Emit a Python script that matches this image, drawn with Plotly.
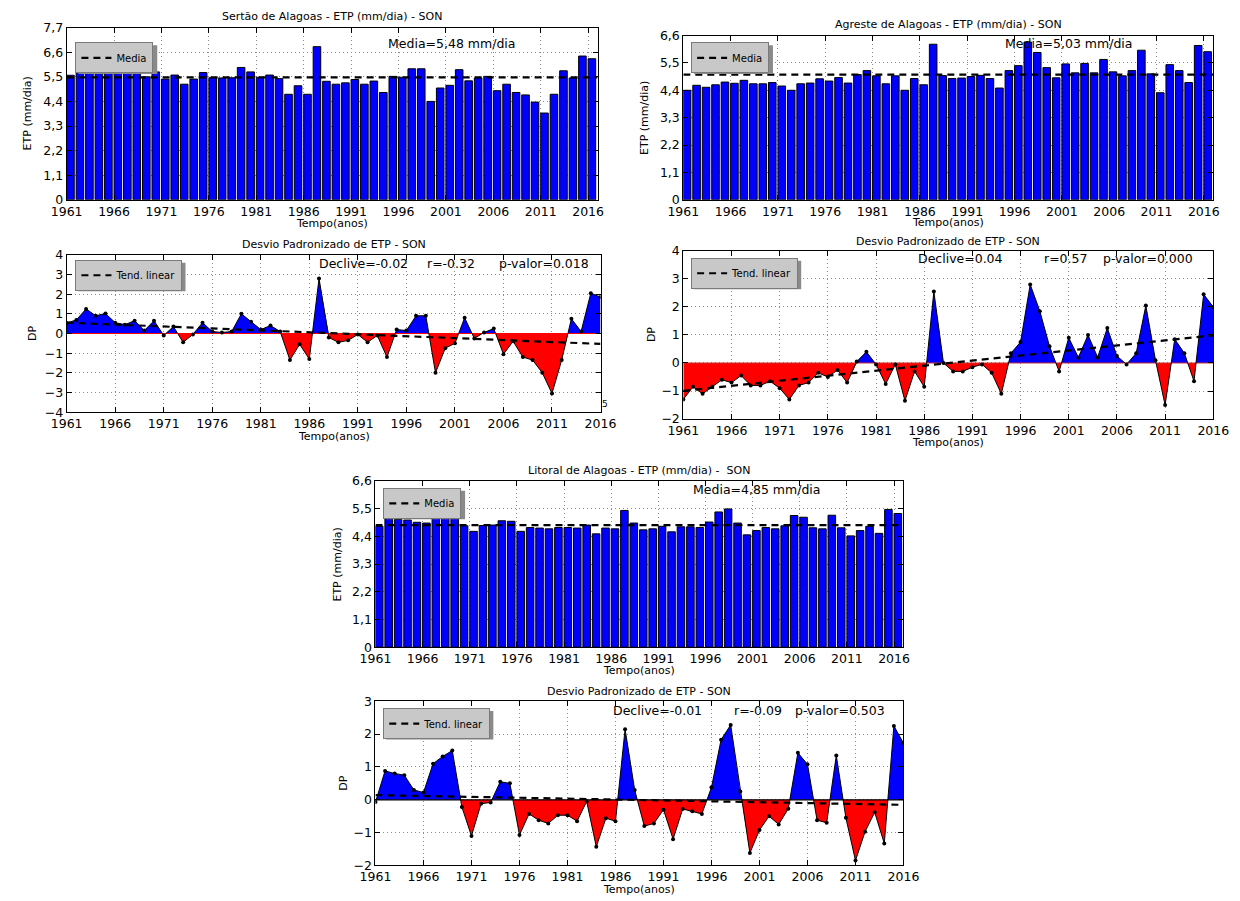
import numpy as np
import plotly.graph_objects as go

W, H = 1240, 901

years = list(range(1961, 2017))
xtick_vals = list(range(1961, 2017, 5))
xtick_text = [str(v) for v in xtick_vals]

etp_ticks_77 = [0, 1.1, 2.2, 3.3, 4.4, 5.5, 6.6, 7.7]
etp_text_77 = ["0", "1,1", "2,2", "3,3", "4,4", "5,5", "6,6", "7,7"]
etp_ticks_66 = [0, 1.1, 2.2, 3.3, 4.4, 5.5, 6.6]
etp_text_66 = ["0", "1,1", "2,2", "3,3", "4,4", "5,5", "6,6"]

sertao_etp = [5.57, 5.77, 6.03, 5.86, 5.92, 5.71, 5.66, 5.77, 5.50, 5.72,
              5.40, 5.58, 5.17, 5.40, 5.69, 5.46, 5.45, 5.46, 5.92, 5.72,
              5.48, 5.58, 5.42, 4.72, 5.10, 4.72, 6.85, 5.30, 5.17, 5.23,
              5.38, 5.17, 5.31, 4.80, 5.52, 5.48, 5.86, 5.86, 4.40, 5.00,
              5.12, 5.82, 5.32, 5.45, 5.52, 4.88, 5.17, 4.80, 4.69, 4.37,
              3.88, 4.72, 5.77, 5.45, 6.43, 6.31]
agreste_etp = [4.40, 4.60, 4.52, 4.62, 4.73, 4.68, 4.80, 4.66, 4.66, 4.71,
               4.57, 4.40, 4.66, 4.69, 4.86, 4.77, 4.91, 4.69, 5.03, 5.19,
               4.98, 4.66, 4.98, 4.40, 4.87, 4.62, 6.25, 4.99, 4.87, 4.89,
               4.95, 5.00, 4.87, 4.49, 5.19, 5.39, 6.34, 5.92, 5.31, 4.90,
               5.46, 5.10, 5.48, 5.10, 5.64, 5.14, 4.98, 5.19, 6.01, 5.06,
               4.30, 5.43, 5.19, 4.71, 6.20, 5.95]
litoral_etp = [4.80, 5.10, 5.07, 5.05, 4.96, 4.93, 5.15, 5.20, 5.26, 4.82,
               4.60, 4.83, 4.85, 5.02, 5.00, 4.60, 4.75, 4.73, 4.70, 4.75,
               4.75, 4.73, 4.85, 4.50, 4.73, 4.70, 5.43, 4.93, 4.66, 4.70,
               4.80, 4.58, 4.78, 4.78, 4.75, 4.97, 5.37, 5.49, 4.93, 4.46,
               4.63, 4.75, 4.70, 4.82, 5.23, 5.16, 4.74, 4.70, 5.24, 4.74,
               4.42, 4.63, 4.80, 4.52, 5.47, 5.31]

sertao_dp = [0.53, 0.69, 1.25, 0.90, 1.02, 0.55, 0.45, 0.65, 0.15, 0.65,
             -0.10, 0.35, -0.45, -0.05, 0.55, 0.10, 0.05, 0.10, 1.00, 0.60,
             0.20, 0.40, 0.10, -1.35, -0.55, -1.30, 2.80, -0.20, -0.45, -0.35,
             -0.05, -0.45, -0.10, -1.20, 0.20, 0.15, 0.90, 0.90, -2.00, -0.75,
             -0.50, 0.80, -0.25, 0.05, 0.25, -1.05, -0.40, -1.20, -1.35, -2.00,
             -3.05, -1.35, 0.75, 0.10, 2.05, 1.85]
agreste_dp = [-1.30, -0.85, -1.10, -0.85, -0.60, -0.70, -0.45, -0.80, -0.80, -0.65,
              -0.90, -1.30, -0.80, -0.70, -0.35, -0.50, -0.25, -0.70, 0.05, 0.40,
              -0.05, -0.75, -0.05, -1.35, -0.30, -0.85, 2.55, 0.00, -0.30, -0.30,
              -0.15, -0.05, -0.35, -1.10, 0.35, 0.75, 2.80, 1.85, 0.60, -0.30,
              0.90, 0.20, 1.00, 0.20, 1.25, 0.25, -0.05, 0.35, 2.05, 0.10,
              -1.50, 0.85, 0.35, -0.65, 2.45, 2.00]
litoral_dp = [-0.07, 0.88, 0.80, 0.75, 0.30, 0.22, 1.10, 1.32, 1.50, -0.22,
              -1.10, -0.12, -0.08, 0.55, 0.50, -1.07, -0.43, -0.62, -0.72, -0.47,
              -0.47, -0.65, -0.05, -1.43, -0.56, -0.65, 2.15, 0.30, -0.80, -0.72,
              -0.30, -1.20, -0.28, -0.35, -0.43, 0.38, 1.83, 2.28, 0.25, -1.62,
              -0.92, -0.50, -0.75, -0.27, 1.43, 1.08, -0.62, -0.70, 1.35, -0.55,
              -1.85, -0.97, -0.38, -1.33, 2.25, 1.72]

sertao_media, agreste_media, litoral_media = 5.48, 5.03, 4.85
media_text = ["Media=5,48 mm/dia", "Media=5,03 mm/dia", "Media=4,85 mm/dia"]
stats_text = [("Declive=-0.02", "r=-0.32", "p-valor=0.018"),
              ("Declive=0.04", "r=0.57", "p-valor=0.000"),
              ("Declive=-0.01", "r=-0.09", "p-valor=0.503")]
bar_titles = ["Sertão de Alagoas - ETP (mm/dia) - SON",
              "Agreste de Alagoas - ETP (mm/dia) - SON",
              "Litoral de Alagoas - ETP (mm/dia) -  SON"]
dp_title = "Desvio Padronizado de ETP - SON"

# panel boxes in pixels: left, right, top, bottom
boxes = {
    1: (52, 597, 20, 195),
    2: (685, 1229, 28, 195),
    3: (52, 600, 251, 411),
    4: (685, 1229, 247, 418),
    5: (369, 911, 481, 650),
    6: (369, 911, 705, 872),
}

def px(x):
    return x / W

def py(y):
    return 1 - y / H

fig = go.Figure()
FONT = "DejaVu Sans"

def ax_name(i, kind):
    return f"{kind}{i}" if i > 1 else kind

def add_bar_panel(i, vals, media, leg):
    xa, ya = ax_name(i, "x"), ax_name(i, "y")
    fig.add_trace(go.Bar(x=years, y=vals, width=0.8, offset=0,
                         marker=dict(color="#0000ff", line=dict(color="black", width=1)),
                         showlegend=False, xaxis=xa, yaxis=ya))
    fig.add_trace(go.Scatter(x=[years[0], years[-1] + 1], y=[media, media], mode="lines",
                             line=dict(color="black", width=2.2, dash="7px,5px"),
                             name="Media", legend=leg, xaxis=xa, yaxis=ya))

def split_fill(x, y):
    xs, yp, yn = [], [], []
    for k in range(len(x)):
        if k > 0 and y[k - 1] * y[k] < 0:
            t = y[k - 1] / (y[k - 1] - y[k])
            xc = x[k - 1] + t * (x[k] - x[k - 1])
            xs.append(xc); yp.append(0); yn.append(0)
        xs.append(x[k]); yp.append(max(y[k], 0)); yn.append(min(y[k], 0))
    return xs, yp, yn

def add_dp_panel(i, vals, leg, zero_color):
    xa, ya = ax_name(i, "x"), ax_name(i, "y")
    xs, yp, yn = split_fill(years, vals)
    fig.add_trace(go.Scatter(x=xs, y=yp, mode="lines", fill="tozeroy", fillcolor="#0000ff",
                             line=dict(width=0), showlegend=False, xaxis=xa, yaxis=ya, hoverinfo="skip"))
    fig.add_trace(go.Scatter(x=xs, y=yn, mode="lines", fill="tozeroy", fillcolor="#ff0000",
                             line=dict(width=0), showlegend=False, xaxis=xa, yaxis=ya, hoverinfo="skip"))
    fig.add_trace(go.Scatter(x=[years[0], years[-1]], y=[0, 0], mode="lines",
                             line=dict(color=zero_color, width=1.2), showlegend=False, xaxis=xa, yaxis=ya))
    fig.add_trace(go.Scatter(x=years, y=vals, mode="lines+markers",
                             line=dict(color="black", width=1), marker=dict(color="black", size=4),
                             showlegend=False, xaxis=xa, yaxis=ya))
    slope, icpt = np.polyfit(years, vals, 1)
    tx = np.array(years, dtype=float)
    fig.add_trace(go.Scatter(x=tx, y=slope * tx + icpt, mode="lines",
                             line=dict(color="black", width=2.2, dash="7px,5px"),
                             name="Tend. linear", legend=leg, xaxis=xa, yaxis=ya))

add_bar_panel(1, sertao_etp, sertao_media, "legend")
add_bar_panel(2, agreste_etp, agreste_media, "legend2")
add_dp_panel(3, sertao_dp, "legend3", "#ff0000")
add_dp_panel(4, agreste_dp, "legend4", "#c83030")
add_bar_panel(5, litoral_etp, litoral_media, "legend5")
add_dp_panel(6, litoral_dp, "legend6", "black")

layout = dict(width=W, height=H, margin=dict(l=0, r=0, t=0, b=0),
              paper_bgcolor="white", plot_bgcolor="white",
              font=dict(family=FONT, color="black"), barmode="overlay")

yranges = {1: [0, 7.7], 2: [0, 6.6], 3: [-4, 4], 4: [-2, 4], 5: [0, 6.6], 6: [-2, 3]}
xranges = {1: [1961, 2017], 2: [1961, 2017], 3: [1961, 2016], 4: [1961, 2016],
           5: [1961, 2017], 6: [1961, 2016]}

for i, (l, r, t, b) in boxes.items():
    xk = "xaxis" if i == 1 else f"xaxis{i}"
    yk = "yaxis" if i == 1 else f"yaxis{i}"
    common = dict(showline=True, linecolor="black", linewidth=1, mirror="allticks",
                  ticks="inside", ticklen=5, tickcolor="black", tickwidth=1,
                  showgrid=True, gridcolor="#8c8c8c", griddash="1px,3px", gridwidth=1,
                  zeroline=False, tickfont=dict(size=12.5, family=FONT, color="black"))
    layout[xk] = dict(common, domain=[px(l), px(r)], range=xranges[i], anchor=ax_name(i, "y"),
                      tickmode="array", tickvals=xtick_vals, ticktext=xtick_text)
    if i in (1, 2, 5):
        tv, tt = (etp_ticks_77, etp_text_77) if i == 1 else (etp_ticks_66, etp_text_66)
        layout[yk] = dict(common, domain=[py(b), py(t)], range=yranges[i], anchor=ax_name(i, "x"),
                          tickmode="array", tickvals=tv, ticktext=tt)
    else:
        lo, hi = yranges[i]
        layout[yk] = dict(common, domain=[py(b), py(t)], range=yranges[i], anchor=ax_name(i, "x"),
                          tickmode="array", tickvals=list(range(lo, hi + 1)))

# legend boxes (top-left corner in px) and approximate sizes for the drop shadow
leg_pos = {1: (61, 35), 2: (693, 35), 3: (61, 256), 4: (693, 254), 5: (377, 488), 6: (377, 712)}
leg_w = {1: 82, 2: 82, 3: 111, 4: 111, 5: 82, 6: 111}
leg_h = 29
shapes = []
for i, (lx, ly) in leg_pos.items():
    key = "legend" if i == 1 else f"legend{i}"
    layout[key] = dict(x=px(lx), y=py(ly), xanchor="left", yanchor="top",
                       bgcolor="#c8c8c8", bordercolor="#7a7a7a", borderwidth=1,
                       font=dict(size=10, family=FONT, color="black"), itemwidth=30)
    shapes.append(dict(type="rect", xref="paper", yref="paper", layer="above",
                       x0=px(lx + 3), x1=px(lx + leg_w[i] + 2), y0=py(ly + leg_h + 3), y1=py(ly + 3),
                       fillcolor="#8a8a8a", line=dict(width=0)))

layout["shapes"] = shapes
fig.update_layout(**layout)

ann = []
def txt(x, y, s, size=11, angle=0, xanchor="center"):
    ann.append(dict(x=px(x), y=py(y), xref="paper", yref="paper", text=s, showarrow=False,
                    font=dict(size=size, family=FONT, color="black"), textangle=angle,
                    xanchor=xanchor, yanchor="middle"))

# titles
for i, tt, yy in [(1, bar_titles[0], 9), (2, bar_titles[1], 17), (5, bar_titles[2], 470),
                  (3, dp_title, 241), (4, dp_title, 237), (6, dp_title, 695)]:
    l, r, t, b = boxes[i]
    txt((l + r) / 2, yy, tt, size=11)

# x axis titles
for i, yy in [(1, 219), (2, 218), (3, 436), (4, 442), (5, 674), (6, 896)]:
    l, r, t, b = boxes[i]
    txt((l + r) / 2, yy, "Tempo(anos)", size=11)

# y axis titles
for i, xx in [(1, 12), (2, 645), (5, 330)]:
    l, r, t, b = boxes[i]
    txt(xx, (t + b) / 2, "ETP (mm/dia)", size=11, angle=-90)
for i, xx in [(3, 17), (4, 653), (6, 336)]:
    l, r, t, b = boxes[i]
    txt(xx, (t + b) / 2, "DP", size=11, angle=-90)

# media text
txt(447, 36, media_text[0], size=12.5)
txt(1080, 36, media_text[1], size=12.5)
txt(760, 490, media_text[2], size=12.5)

# stats text
for (xs_, yy), st in zip([((357, 447, 542), 260), ((970, 1077, 1162), 255), ((658, 762, 846), 714)],
                         stats_text):
    for xx, s in zip(xs_, st):
        txt(xx, yy, s, size=12.5)

txt(605, 403, "5", size=9)

fig.update_layout(annotations=ann)
fig.write_html("out.html", config={"displayModeBar": False},
               post_script="document.body.style.margin='0';")
